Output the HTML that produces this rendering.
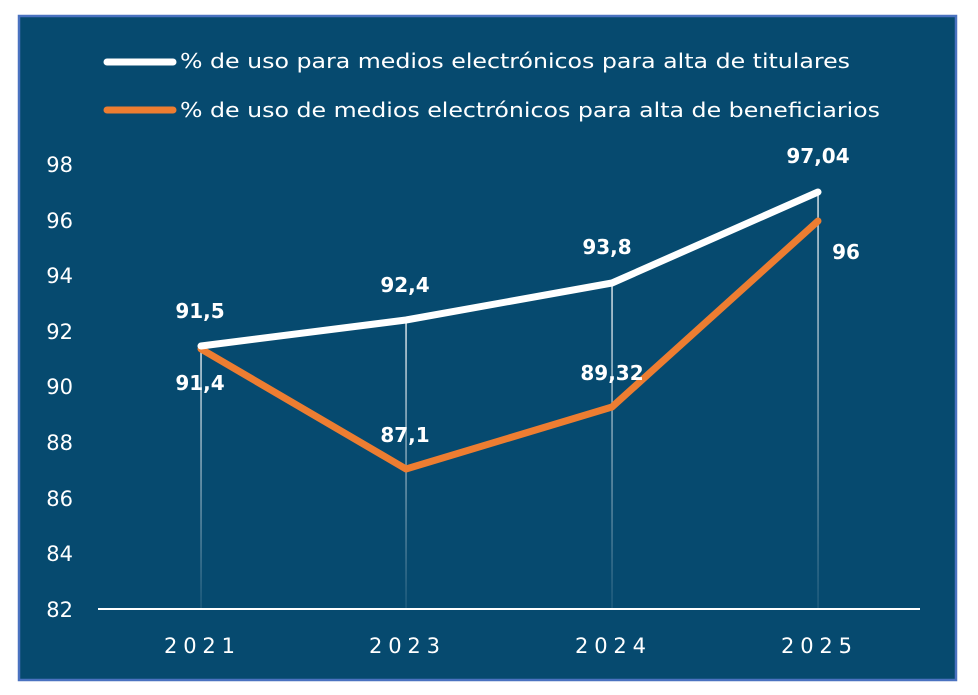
<!DOCTYPE html>
<html><head><style>
body{margin:0;background:#fff;}
svg{display:block;font-family:"DejaVu Sans","Liberation Sans",sans-serif;}
</style></head><body>
<svg width="978" height="695" viewBox="0 0 978 695">
<defs>
<linearGradient id="dg" x1="0" y1="0" x2="0" y2="1">
<stop offset="0" stop-color="#fff" stop-opacity="0.85"/>
<stop offset="1" stop-color="#fff" stop-opacity="0.1"/>
</linearGradient>
</defs>
<rect x="19" y="16" width="937" height="664" fill="#064a6f" stroke="#4a72c0" stroke-width="2.5"/>
<line x1="107" y1="62" x2="173" y2="62" stroke="#fff" stroke-width="7" stroke-linecap="round"/>
<line x1="107" y1="110" x2="173" y2="110" stroke="#ed7d31" stroke-width="7" stroke-linecap="round"/>
<text x="180" y="68" fill="#fff" font-size="20" textLength="670" lengthAdjust="spacingAndGlyphs">% de uso para medios electrónicos para alta de titulares</text>
<text x="180" y="117" fill="#fff" font-size="20" textLength="700" lengthAdjust="spacingAndGlyphs">% de uso de medios electrónicos para alta de beneficiarios</text>
<g fill="#fff" font-size="21" text-anchor="end">
<text x="73" y="172">98</text><text x="73" y="228">96</text><text x="73" y="283">94</text>
<text x="73" y="339">92</text><text x="73" y="394">90</text><text x="73" y="450">88</text>
<text x="73" y="506">86</text><text x="73" y="561">84</text><text x="73" y="617">82</text>
</g>
<g fill="url(#dg)">
<rect x="200.3" y="346" width="1.5" height="262"/>
<rect x="405.3" y="320" width="1.5" height="288"/>
<rect x="611.3" y="283" width="1.5" height="325"/>
<rect x="817.3" y="192" width="1.5" height="416"/>
</g>
<line x1="98" y1="609" x2="920" y2="609" stroke="#fff" stroke-width="2"/>
<g fill="#fff" font-size="21">
<text x="164" y="653" textLength="71" lengthAdjust="spacing">2021</text>
<text x="369" y="653" textLength="71" lengthAdjust="spacing">2023</text>
<text x="575" y="653" textLength="71" lengthAdjust="spacing">2024</text>
<text x="781" y="653" textLength="71" lengthAdjust="spacing">2025</text>
</g>
<polyline points="201,349 406,469 612,407 818,221" fill="none" stroke="#ed7d31" stroke-width="7" stroke-linejoin="round" stroke-linecap="round"/>
<polyline points="201,346 406,320 612,283 818,192" fill="none" stroke="#fff" stroke-width="7" stroke-linejoin="round" stroke-linecap="round"/>
<g fill="#fff" font-size="20" font-weight="bold" text-anchor="middle">
<text x="200" y="318">91,5</text><text x="200" y="390">91,4</text>
<text x="405" y="292">92,4</text><text x="405" y="442">87,1</text>
<text x="607" y="254">93,8</text><text x="612" y="380">89,32</text>
<text x="818" y="163">97,04</text><text x="846" y="259">96</text>
</g>
</svg>
</body></html>
